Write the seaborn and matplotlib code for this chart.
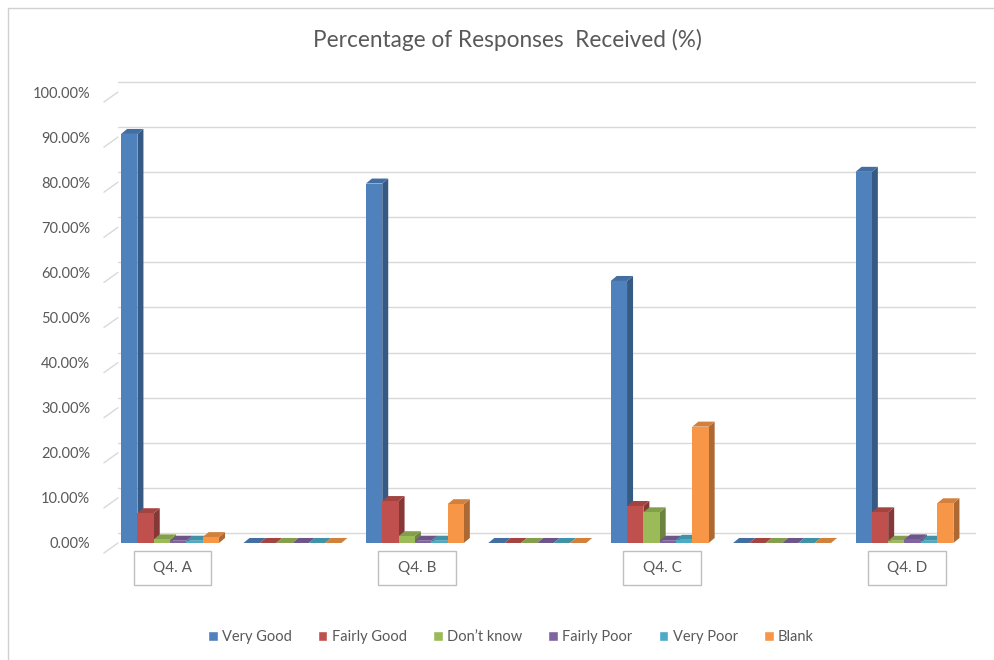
import matplotlib as mpl
mpl.use("Agg")
import matplotlib.pyplot as plt
import seaborn as sns
import pandas as pd
import numpy as np
from matplotlib.patches import Polygon, Rectangle
from matplotlib.ticker import PercentFormatter
from matplotlib import colors as mcolors
from matplotlib import transforms

## --------------- DATOS ------------- ##

categorias = ["Q4. A", " ", "Q4. B", "  ", "Q4. C", "   ", "Q4. D"]
series = ["Very Good", "Fairly Good", "Don\u2019t know", "Fairly Poor", "Very Poor", "Blank"]

very_good   = [90.7, 0, 79.7, 0, 58.1, 0, 82.3]
fairly_good = [6.6, 0, 9.3, 0, 8.2, 0, 6.8]
dont_know   = [0.8, 0, 1.5, 0, 6.8, 0, 0.5]
fairly_poor = [0.5, 0, 0.5, 0, 0.5, 0, 0.8]
very_poor   = [0.5, 0, 0.5, 0, 0.7, 0, 0.5]
blank       = [1.3, 0, 8.6, 0, 25.8, 0, 8.8]

colores = ["#4F81BD", "#C0504D", "#9BBB59", "#8064A2", "#4BACC6", "#F79646"]

valores = [very_good, fairly_good, dont_know, fairly_poor, very_poor, blank]
df = pd.DataFrame({
    "categoria": np.repeat(categorias, len(series)),
    "serie": series * len(categorias),
    "valor": [valores[j][i] for i in range(len(categorias)) for j in range(len(series))],
})

## --------------- GRAFICO ------------- ##

sns.set_style("white")
plt.rcParams["font.family"] = ["Lato", "DejaVu Sans"]
gris = "#595959"

fig = plt.figure(figsize=(9.94, 6.6), dpi=100)
ax = fig.add_axes([0.1046, 0.1773, 0.862, 0.6833])

sns.barplot(data=df, x="categoria", y="valor", hue="serie", order=categorias,
            hue_order=series, palette=colores, width=0.8, saturation=1,
            errorbar=None, legend=False, ax=ax, zorder=5)

ax.set_ylim(0, 100)
ax.set_xlim(-0.54, len(categorias) - 0.54)
ax.set_yticks(np.arange(0, 101, 10))
ax.yaxis.set_major_formatter(PercentFormatter(100, decimals=2))
ax.tick_params(axis="y", length=0, labelsize=10.5, labelcolor=gris, pad=10)
ax.set_xticks([])
ax.set_xlabel("")
ax.set_ylabel("")
sns.despine(ax=ax, left=True, bottom=True, top=True, right=True)

## Pared del fondo (lineas de grilla desplazadas)
dx_px, dy_px = 14, 10
desplaz = transforms.ScaledTranslation(dx_px / 100, dy_px / 100, fig.dpi_scale_trans)
ytrans = ax.get_yaxis_transform()
for v in np.arange(0, 101, 10):
    ax.plot([0, 1], [v, v], transform=ytrans + desplaz, color="#d9d9d9", lw=1,
            zorder=0, clip_on=False)
    ax.plot([0, dx_px / (0.862 * 994)], [v - dy_px / 4.51, v], transform=ytrans,
            color="#d9d9d9", lw=1, zorder=0, clip_on=False)

## Efecto 3D en cada barra
prof_x = 6 / 122.4
prof_y = 5 / 4.51
barras = sorted([p for p in ax.patches if isinstance(p, Rectangle)], key=lambda p: p.get_x())
for i, p in enumerate(barras):
    x0, w, h = p.get_x(), p.get_width(), p.get_height()
    c = np.array(mcolors.to_rgb(p.get_facecolor()))
    base_z = 10 + i * 3
    p.set_edgecolor("none")
    p.set_zorder(base_z + 2)
    lado = Polygon([(x0 + w, 0), (x0 + w + prof_x, prof_y), (x0 + w + prof_x, h + prof_y), (x0 + w, h)],
                   closed=True, facecolor=c * 0.7, edgecolor="none", zorder=base_z)
    techo = Polygon([(x0, h), (x0 + w, h), (x0 + w + prof_x, h + prof_y), (x0 + prof_x, h + prof_y)],
                    closed=True, facecolor=c * 0.85, edgecolor="none", zorder=base_z + 1)
    ax.add_patch(lado)
    ax.add_patch(techo)

## Etiquetas de categoria en cajas
btrans = transforms.blended_transform_factory(ax.transData, ax.transAxes)
for i, cat in enumerate(categorias):
    if cat.strip() == "":
        continue
    ax.add_patch(Rectangle((i + 0.02 - 0.318, -0.093), 0.636, 0.0753, transform=btrans,
                           facecolor="white", edgecolor="#bfbfbf", lw=1, clip_on=False))
    ax.text(i + 0.02, -0.0555, cat, transform=btrans, ha="center", va="center",
            fontsize=11, color=gris)

## Titulo y leyenda
fig.text(0.511, 0.939, "Percentage of Responses  Received (%)", ha="center", va="center",
         fontsize=16.3, color=gris)

handles = [Rectangle((0, 0), 1, 1, facecolor=c) for c in colores]
fig.legend(handles, series, loc="center", bbox_to_anchor=(0.514, 1 - 637 / 660), ncol=6,
           frameon=False, fontsize=10.5, labelcolor=gris, handlelength=0.65, handleheight=0.65,
           handletextpad=0.3, columnspacing=1.8)

## Borde del grafico
fig.add_artist(plt.Line2D([8 / 994, 8 / 994], [0, 1 - 8 / 660], color="#d0d0d0", lw=1))
fig.add_artist(plt.Line2D([8 / 994, 1], [1 - 8 / 660, 1 - 8 / 660], color="#d0d0d0", lw=1))

plt.savefig("out.png", dpi=100)
